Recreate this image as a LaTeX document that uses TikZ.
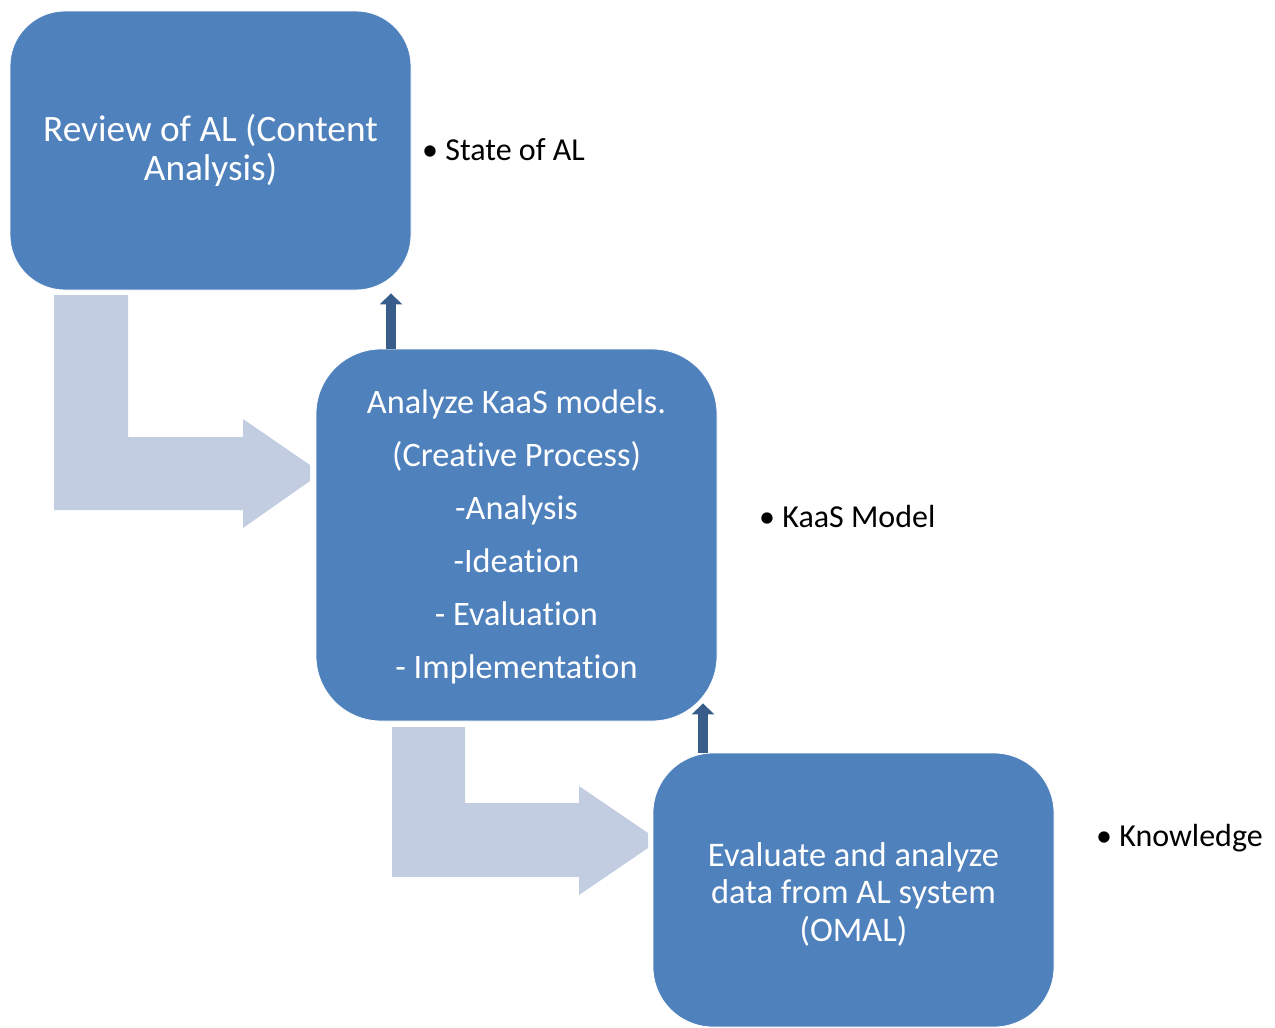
\documentclass[tikz,border=0pt]{standalone}
\usepackage{fontspec}
\setmainfont{Carlito}[Ligatures=NoCommon]
\usetikzlibrary{arrows.meta}
\definecolor{boxblue}{HTML}{4F81BD}
\definecolor{flowblue}{HTML}{C3CDE2}
\definecolor{linkblue}{HTML}{385D8A}
\tikzset{
  stage/.style={fill=boxblue, draw=white, line width=0.8pt, text=white,
    minimum width=401pt, align=center, inner sep=0pt},
  toptext/.style={font=\fontsize{37.3}{39}\selectfont},
  bottomtext/.style={font=\fontsize{34.5}{37.5}\selectfont},
  listtext/.style={font=\fontsize{34.3}{53}\selectfont},
  outcome/.style={font=\fontsize{32}{38}\selectfont, text=black, inner sep=0pt},
  flow/.style={fill=flowblue, draw=none},
  uplink/.style={draw=linkblue, line width=9.5pt,
    -{Triangle[width=22pt,length=11pt]}},
}
\begin{document}
\begin{tikzpicture}[x=1pt,y=-1pt]
\useasboundingbox (0,0) rectangle (1275,1028);

% stages
\node[stage, toptext, minimum height=279pt, rounded corners=55pt] (b1) at (210.5,150.5)
  {Review of AL (Content\\Analysis)};
\node[stage, minimum height=372pt, rounded corners=65pt] (b2) at (516.5,535) {};
\node[listtext, text=white, align=center, inner sep=0pt] (t2) at (516.5,537)
  {Analyze KaaS models.\\(Creative Process)\\-Analysis\\-Ideation\\- Evaluation\\- Implementation};
\node[stage, minimum height=274pt, rounded corners=60pt] (b3) at (853.5,890) {};
\node[bottomtext, text=white, align=center, inner sep=0pt] (t3) at (853.5,894)
  {Evaluate and analyze\\data from AL system\\(OMAL)};

% outcomes
\node[outcome, anchor=base west] (o1) at (422,160) {• State of AL};
\node[outcome, anchor=base west] (o2) at (759,527) {• KaaS Model};
\node[outcome, anchor=base west] (o3) at (1096,846) {• Knowledge};

% bent flow arrows between stages
\path[flow] (54,295) -- (128,295) -- (128,437) -- (243,437) -- (243,419)
  -- (310,465) -- (310,481) -- (243,528) -- (243,510) -- (54,510) -- cycle;
\path[flow] (392,727) -- (465,727) -- (465,803) -- (579,803) -- (579,786)
  -- (648,833) -- (648,848) -- (579,895) -- (579,877) -- (392,877) -- cycle;

% feedback arrows
\coordinate (f1) at (391,0);
\coordinate (f2) at (703,0);
\draw[uplink] (b2.north -| f1) -- ([yshift=-3pt]b1.south -| f1);
\draw[uplink] (b3.north -| f2) -- ([yshift=18pt]b2.south -| f2);
\end{tikzpicture}
\end{document}
